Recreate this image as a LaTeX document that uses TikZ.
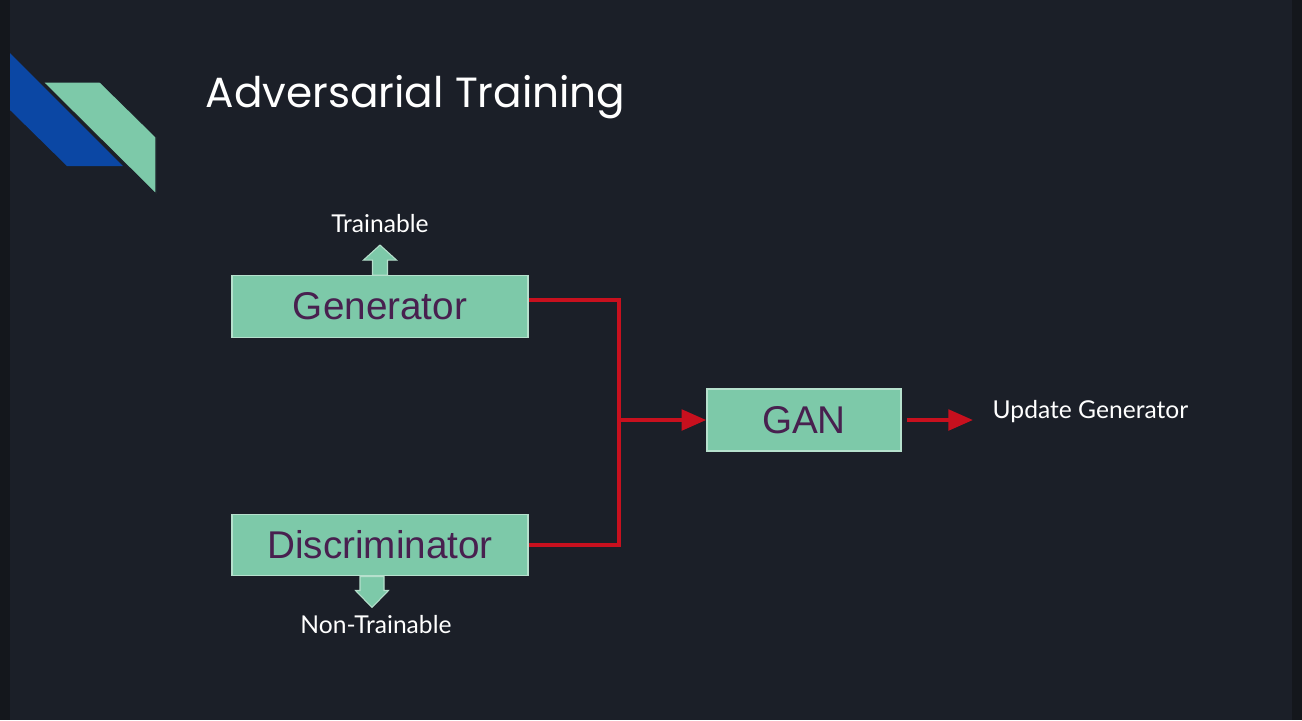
\documentclass[tikz,border=0pt]{standalone}
\usepackage{fontspec}
\setmainfont{Liberation Sans}
\newfontfamily\titlefont{Poppins}
\newfontfamily\labelfont{Lato}
\definecolor{slidebg}{HTML}{1B1F28}
\definecolor{edgedark}{HTML}{14171C}
\definecolor{mint}{HTML}{7DC9A9}
\definecolor{mintedge}{HTML}{B6E0CD}
\definecolor{plum}{HTML}{48204F}
\definecolor{wirered}{HTML}{C8101E}
\definecolor{deco}{HTML}{0B47A4}
\usetikzlibrary{positioning,arrows.meta,calc}

\begin{document}
\begin{tikzpicture}[x=0.01cm,y=-0.01cm,
      block/.style={draw=mintedge,line width=0.4pt,fill=mint,text=plum,font=\fontsize{11}{13}\selectfont,minimum width=2.96cm,minimum height=0.615cm,inner sep=0pt},
      tag/.style={text=white,font=\labelfont\fontsize{7}{8}\selectfont,inner sep=0pt},
      wire/.style={draw=wirered,line width=1.15pt},
      redtip/.style={-{Triangle[length=7pt,width=5.8pt]}}]
    \useasboundingbox (0,0) rectangle (1302,720);
    \fill[slidebg] (0,0) rectangle (1302,720);
    \fill[edgedark] (0,0) rectangle (10,720);
    \fill[edgedark] (1292,0) rectangle (1302,720);
    \fill[deco] (10,53) -- (123,166) -- (67,166) -- (10,110) -- cycle;
    \filldraw[mint,draw=slidebg,line width=0.3pt] (43,82) -- (100,82) -- (156,137) -- (156,194) -- cycle;
    \node[anchor=base west,text=white,inner sep=0pt,font=\titlefont\fontsize{12}{14}\selectfont] (title) at (205,107) {Adversarial Training};

    \node[block] (gen) at (380,306.5) {Generator};
    \node[block] (dis) at (380,545) {Discriminator};
    \node[block,minimum width=1.94cm,minimum height=0.62cm] (gan) at (804,420) {GAN};
    \node[tag,anchor=base] (train) at (380,232) {Trainable};
    \node[tag,anchor=base] (nontrain) at (376,633) {Non-Trainable};
    \node[tag,anchor=base west] (upd) at (992,418) {Update Generator};
    \coordinate (join) at (619,420);
    \coordinate (updtip) at (973,420);

    \fill[mint,draw=mintedge,line width=0.3pt] ($(gen.north)+(-7.5,0)$) -- ++(0,-15) -- ++(-9,0) -- ++(16.5,-15) -- ++(16.5,15) -- ++(-9,0) -- ++(0,15) -- cycle;
    \fill[mint,draw=mintedge,line width=0.3pt] ($(dis.south)+(-20,0)$) -- ++(0,14) -- ++(-4.5,0) -- ++(16.5,17) -- ++(16.5,-17) -- ++(-4.5,0) -- ++(0,-14) -- cycle;

    \draw[wire] ([yshift=0.065cm]gen.east) -| (join);
    \draw[wire] (dis.east) -| (join);
    \draw[wire,redtip] (join) -- (gan.west);
    \draw[wire,redtip] ([xshift=0.05cm]gan.east) -- (updtip);
  \end{tikzpicture}
\end{document}
